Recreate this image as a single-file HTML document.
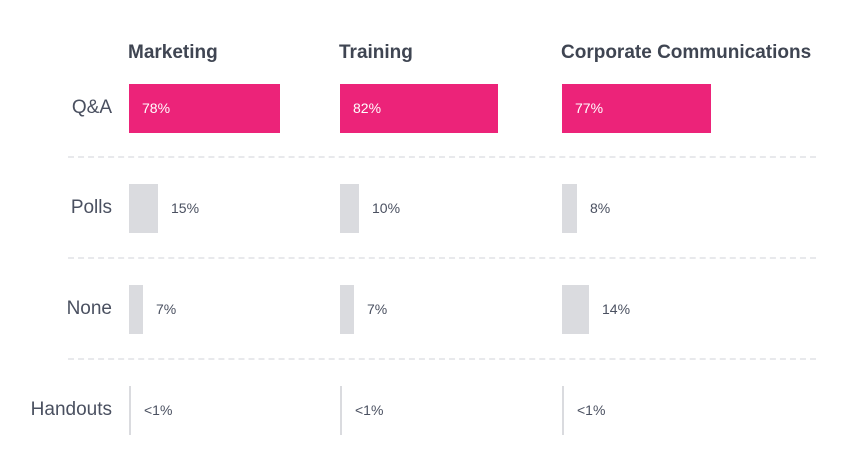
<!DOCTYPE html>
<html><head><meta charset="utf-8"><style>
body{margin:0;background:#fff;font-family:"Liberation Sans",sans-serif}
#c{position:relative;width:862px;height:476px;overflow:hidden}
.h{position:absolute;top:42px;font-size:19px;font-weight:bold;color:#3f4552;white-space:nowrap}
.rl{position:absolute;width:112px;left:0;text-align:right;font-size:19px;color:#4a5060}
.bar{position:absolute;height:49px}
.v{position:absolute;font-size:14px;color:#4a5060;white-space:nowrap}
.dash{position:absolute;left:68px;width:748px;border-top:2px dashed #e8e9ec}
</style></head><body>
<div id="c"></div>
<script>
const groups=["Marketing","Training","Corporate Communications"];
const rows=["Q&A","Polls","None","Handouts"];
const values=[[78,15,7,0.5],[82,10,7,0.5],[77,8,14,0.5]];
const valueLabels=[["78%","15%","7%","<1%"],["82%","10%","7%","<1%"],["77%","8%","14%","<1%"]];
const c=document.getElementById('c');
const colX=[129,340,562], rowY=[84,184,285,386], scale=1.93;
groups.forEach((g,i)=>{const d=document.createElement('div');d.className='h';d.style.left=(colX[i]-1)+'px';d.textContent=g;

c.appendChild(d);});
rows.forEach((r,j)=>{const d=document.createElement('div');d.className='rl';d.style.top=(rowY[j]+13)+'px';d.textContent=r;

c.appendChild(d);
if(j>0){const l=document.createElement('div');l.className='dash';l.style.top=(rowY[j]-28)+'px';

c.appendChild(l);}});
values.forEach((vs,i)=>vs.forEach((v,j)=>{const w=Math.max(2,Math.round(v*scale));
const b=document.createElement('div');b.className='bar';b.style.left=colX[i]+'px';b.style.top=rowY[j]+'px';b.style.width=w+'px';
b.style.background=j==0?'#ec2379':'#dadbdf';

c.appendChild(b);
const t=document.createElement('div');t.className='v';t.textContent=valueLabels[i][j];t.style.top=(rowY[j]+16)+'px';
if(j==0){t.style.left=(colX[i]+13)+'px';t.style.color='#fff';}else t.style.left=(colX[i]+w+13)+'px';

c.appendChild(t);}));
</script></body></html>
